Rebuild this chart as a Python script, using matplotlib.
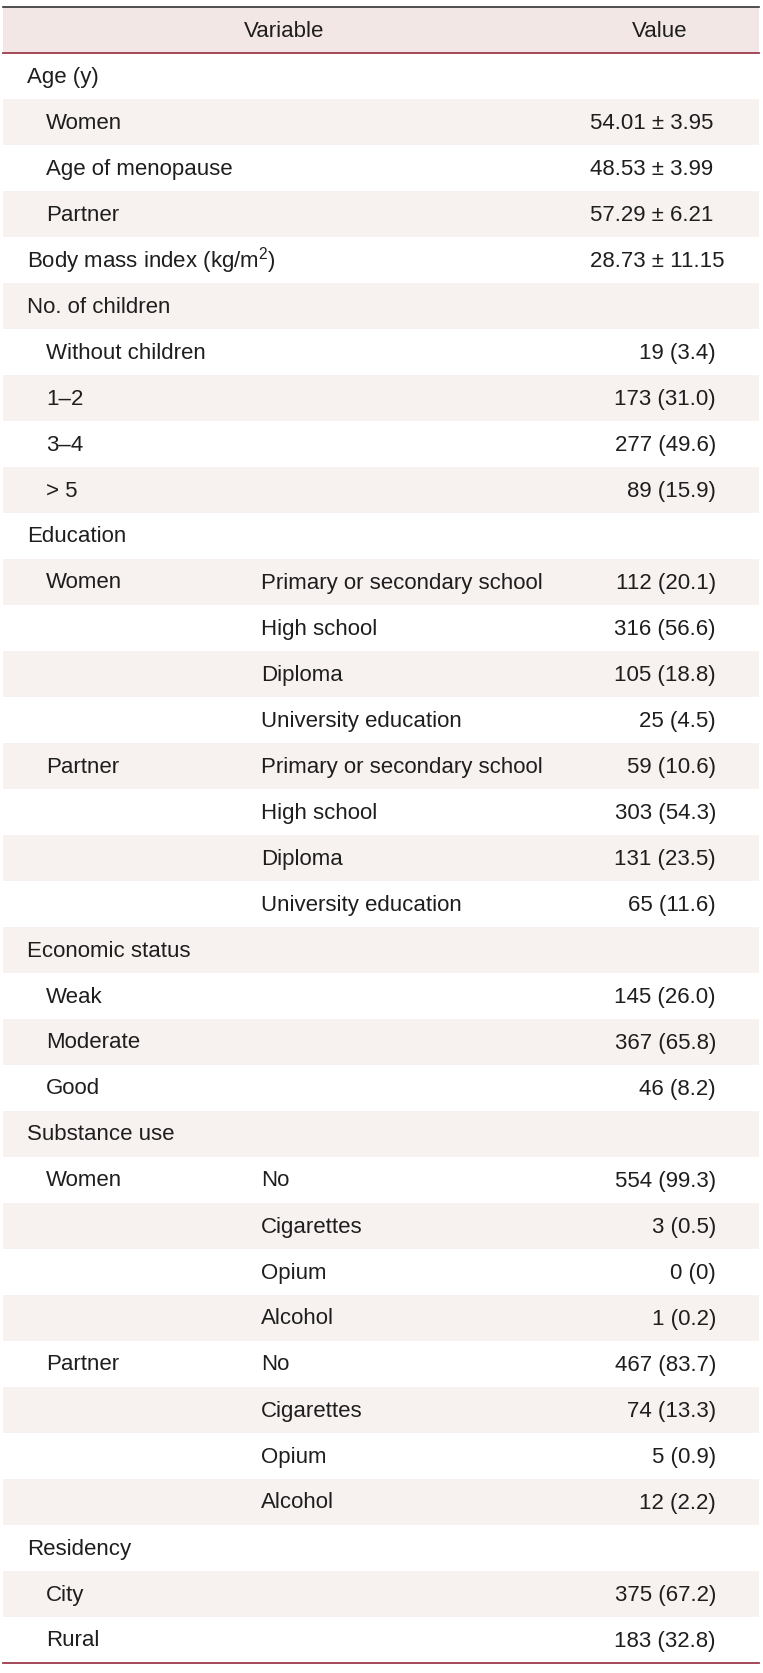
import matplotlib
matplotlib.use("Agg")
import matplotlib.pyplot as plt

plt.rcParams['font.family'] = ['Liberation Sans Narrow', 'Liberation Sans', 'DejaVu Sans']
plt.rcParams['mathtext.fontset'] = 'custom'
plt.rcParams['mathtext.rm'] = 'Liberation Sans'
plt.rcParams['mathtext.it'] = 'Liberation Sans'

# table content: level (0 = heading, 1 = indented), first label, second label, value
levels = [0, 1, 1, 1, 0, 0, 1, 1, 1, 1,
          0, 1, 1, 1, 1, 1, 1, 1, 1,
          0, 1, 1, 1,
          0, 1, 1, 1, 1, 1, 1, 1, 1,
          0, 1, 1]
labels = ["Age (y)", "Women", "Age of menopause", "Partner",
          "Body mass index (kg/m$^{2}$)", "No. of children", "Without children", "1\u20132", "3\u20134", "> 5",
          "Education", "Women", "", "", "", "Partner", "", "", "",
          "Economic status", "Weak", "Moderate", "Good",
          "Substance use", "Women", "", "", "", "Partner", "", "", "",
          "Residency", "City", "Rural"]
sublabels = ["", "", "", "", "", "", "", "", "", "",
             "", "Primary or secondary school", "High school", "Diploma", "University education",
             "Primary or secondary school", "High school", "Diploma", "University education",
             "", "", "", "",
             "", "No", "Cigarettes", "Opium", "Alcohol", "No", "Cigarettes", "Opium", "Alcohol",
             "", "", ""]
values = ["", "54.01 \u00b1 3.95", "48.53 \u00b1 3.99", "57.29 \u00b1 6.21",
          "28.73 \u00b1 11.15", "", "19 (3.4)", "173 (31.0)", "277 (49.6)", "89 (15.9)",
          "", "112 (20.1)", "316 (56.6)", "105 (18.8)", "25 (4.5)",
          "59 (10.6)", "303 (54.3)", "131 (23.5)", "65 (11.6)",
          "", "145 (26.0)", "367 (65.8)", "46 (8.2)",
          "", "554 (99.3)", "3 (0.5)", "0 (0)", "1 (0.2)",
          "467 (83.7)", "74 (13.3)", "5 (0.9)", "12 (2.2)",
          "", "375 (67.2)", "183 (32.8)"]

W, H = 763, 1673
top, rowh = 7, 46
left, right = 3, 759
fs = 16
shade = "#f7f1ef"
head_shade = "#f2e7e4"
red = "#9c3a4c"
ink = "#1e1e1e"

fig = plt.figure(figsize=(W / 100, H / 100), dpi=100)
ax = fig.add_axes([0, 0, 1, 1])
ax.set_xlim(0, W)
ax.set_ylim(H, 0)
ax.axis("off")

# header
ax.barh(top + rowh / 2, right - left, height=rowh, left=left, color=head_shade, linewidth=0)
ax.text(284, top + rowh / 2 + 1, "Variable", ha="center", va="center", fontsize=fs, color=ink)
ax.text(660, top + rowh / 2 + 1, "Value", ha="center", va="center", fontsize=fs, color=ink)

n = len(labels)
ys = [top + rowh + rowh * i + rowh / 2 for i in range(n)]
shaded = [y for i, y in enumerate(ys) if i % 2 == 1]
ax.barh(shaded, right - left, height=rowh, left=left, color=shade, linewidth=0)

for i in range(n):
    y = ys[i] + 1
    x = 27 if levels[i] == 0 else 46
    if labels[i]:
        ax.text(x, y, labels[i], ha="left", va="center", fontsize=fs, color=ink)
    if sublabels[i]:
        ax.text(261, y, sublabels[i], ha="left", va="center", fontsize=fs, color=ink)
    v = values[i]
    if v:
        if "\u00b1" in v:
            ax.text(590, y, v, ha="left", va="center", fontsize=fs, color=ink)
        else:
            ax.text(716, y, v, ha="right", va="center", fontsize=fs, color=ink)

ax.plot([left, right], [top, top], color="#333333", linewidth=1.2)
ax.plot([left, right], [top + rowh, top + rowh], color=red, linewidth=1.3)
bottom = top + rowh * (n + 1)
ax.plot([left, right], [bottom, bottom], color=red, linewidth=1.3)

fig.savefig("out.png", dpi=100)
